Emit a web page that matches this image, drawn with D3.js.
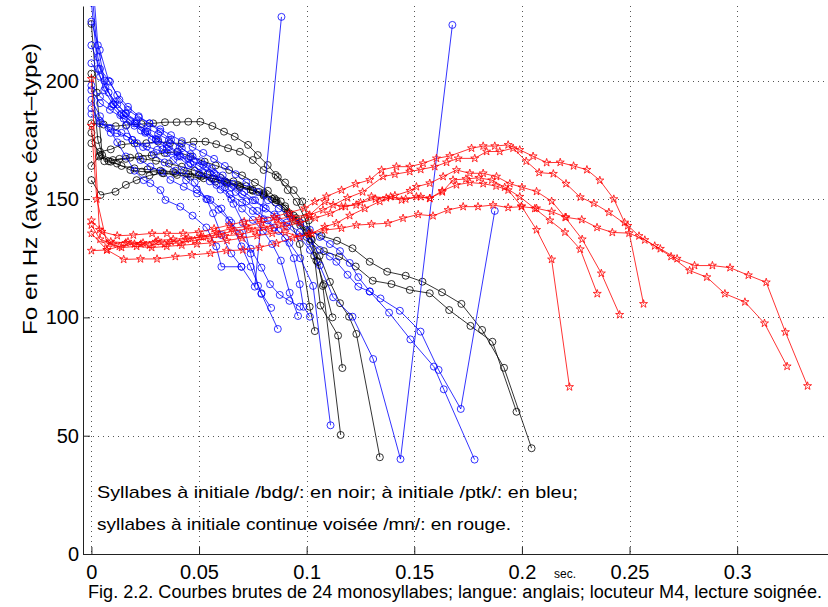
<!DOCTYPE html>
<html>
<head>
<meta charset="utf-8">
<script src="https://cdn.jsdelivr.net/npm/d3@7"></script>
<style>
body { margin: 0; background: #fff; }
text { font-family: "Liberation Sans", Arial, Helvetica, sans-serif; }
</style>
</head>
<body>
<script>
// temps en ms, Fo en Hz
// syllabes /bdg/ (noir)
var noir = [
  [[0,182],[5.7,181.5],[11.3,180.8],[16.3,181.3],[23.3,181.7],[28.7,182],[34.2,182.5],[39.6,182.5],[45,182.7],[50.6,182.7],[56.2,180.9],[61.6,178.5],[66.6,176.4],[72.8,172.9],[77.3,168.6],[81.9,164.4],[86.6,159.3],[91.2,153.8],[95.4,148.8],[99.1,142],[102.4,132.7],[105.2,123.4],[107.5,113.3],[115.8,50.3]],
  [[0,173.6],[4,170],[9,171],[14,173],[20,173.6],[25.5,173.6],[31,174.3],[36.5,173.6],[42,173.6],[47.5,174.3],[53,174.3],[58,173.2],[63.5,171.5],[69,170],[75,166.5],[80,162.3],[85.6,160.2],[90,157],[94,153.8],[98,149],[101,141],[103.5,126],[106.4,105],[114.6,92.3],[116.6,78.6]],
  [[0,224],[2.5,195],[5,168.6],[10,166.5],[16,167],[22,168],[28,168.5],[34,169.5],[40,170],[46,168],[52.6,165.8],[57.7,164.2],[64,162.3],[70,160],[76,157],[82,153.5],[88,149],[94,143],[100,136],[106,126],[110.8,115],[115.5,106],[119.7,100.3],[123.1,93],[134,40.9]],
  [[0,203],[3,175],[6,166],[11.9,165],[18.1,162.3],[23.5,161.6],[29,161.6],[33.6,160.9],[39.8,160.2],[46,159.5],[52.2,158.8],[57.6,157.4],[63,156.5],[69,155],[75,153.5],[80,151.5],[85.6,148.5],[91,144],[96.8,131],[101.4,104.5],[103.8,94.2]],
  [[0,158],[4.2,151.7],[11.2,153.1],[16,156],[21,158],[27,160],[33,161],[39,161],[45,160.5],[51,159.5],[57,158.5],[63,157],[69,155.5],[75,153.8],[80,152],[85,150.3],[90,147],[95,142],[99.9,136.9],[106.9,134.5],[114.1,132.4],[121.3,129.2],[129.3,123.5],[137.4,119.3],[146,117.6],[153.8,115.1],[162.9,110.6],[171.9,105.7],[181.5,94.7],[191.7,78.7],[204.5,44.7]],
  [[0,164],[4,168.5],[9,165.8],[14,164],[20,163],[26,162.5],[32,162],[38,161.5],[44,160.8],[50,160],[56,158.8],[62,157.5],[68,156],[74,154],[80,152.5],[86,149.5],[92,144],[97,139],[102,133],[108,128],[115.1,125.7],[122.8,121.5],[130.7,115.5],[139.4,114.1],[147.9,111.6],[157.2,110.2],[166.2,103.1],[176.1,96.4],[186.3,89.7],[197.5,60.1]],
  [[0,178],[3.5,168],[8,166],[13,167],[18,167.5],[24,167],[30,166.2],[36,165],[42,163.7],[48,162],[54,160.5],[60,159],[66,157.5],[72,155.5],[78,153],[84,150],[90,146],[95,141],[100,134],[104.5,124],[108,114],[112,100]]
];

// syllabes /ptk/ (bleu)
var bleu = [
  [[0,250],[3,215],[6,200],[10.4,190],[14,186],[18,183],[23,179],[28,175],[33,171],[38,166.5],[43,162],[48,157],[53.4,150],[56.5,144],[60.4,134.8],[65,127],[69.7,121.4],[75.9,113],[88.3,227]],
  [[0,188.4],[4,183],[9,178],[11.9,177.8],[16.5,176.4],[21.2,173.6],[25.8,172.2],[30.5,170.8],[35.1,169.4],[41.3,168],[47.5,165.8],[53.7,163.7],[58,160],[62,155],[66,148],[70.4,140],[74,127],[77.4,113.3],[79,109.9],[86.6,95.1]],
  [[0,233],[3,205],[6,196],[10,190],[15,185.5],[20,182],[25,178.5],[30,175],[35,171.5],[40,168],[45,164.4],[50,161],[55,157.5],[60,154],[65,150],[70,146],[75,141.2],[79.7,136.5],[84,131],[88,124],[92.1,110.4],[96,100.6]],
  [[0,240],[3,210],[6.5,197],[11,191],[16,186],[21,182],[26,178.5],[31,175],[36,172],[41,168.5],[46,165],[51.9,161],[58.1,156],[64.3,152],[70,148.5],[75,145],[80,141.5],[85,138],[90,133.5],[94,125],[96.8,114],[98.5,104.5],[101.5,100.3]],
  [[0,225],[3.9,213],[8,200],[12,194],[17,189],[22,185],[27,182],[32,178.5],[37,175],[42,171.5],[47,168],[52,164.5],[57,161],[62,157],[67,153],[72,149],[77,145],[82,141],[87,136.5],[92,131.5],[97,125],[103,113.3],[111.1,54.4]],
  [[0,207.4],[4,201.7],[8,195],[12,190],[16,186.3],[21,183],[26,180],[31,177.5],[36,175],[41,172],[46,169],[51,166],[56,163],[61,160],[66,156.5],[71,153],[76,149.5],[81,146],[86,142.5],[91,138.5],[96.8,134],[101.5,128.5],[106.1,122],[112.3,108.5],[121.3,100.3],[130.9,82.4],[143.6,40.1],[167.7,223.6]],
  [[0,215],[4,205],[8.6,199.6],[13,192],[17,187.7],[22,184.5],[27,182],[32,179.5],[37,177],[42,174.5],[47,172],[52,169.5],[57,167],[62,164],[67,160.5],[72,157],[77,153],[82,149.5],[87,146],[92,143],[97,140],[101.5,137],[106.1,134],[110.8,131],[115.5,128],[120,123],[124,117],[129.3,111],[134.3,108],[143.3,102.8],[152.9,94],[161.3,77.8],[171.6,61.3],[187.4,145]],
  [[0,196],[4,190.5],[8.6,187.7],[15,184],[20,181],[25,178],[30,175.5],[35,173],[40,170],[45,167],[50,164],[55,161],[60,158],[65,155],[70,152],[75,149.5],[80,146.5],[85,143.5],[90.6,140],[96.8,136],[101.5,132],[106.1,128.5],[110.8,125.7],[113.8,123.5],[119,118],[124,113],[129.3,110.9],[138.3,102],[148.2,90.7],[159.1,79.2],[163.7,69.6],[178,39.9]],
  [[0,198],[4,193.3],[9.4,189.3],[13.4,185.5],[16,181],[19,175],[22.8,166.5],[27.4,163.7],[32.8,161.6],[36.7,158.1],[42.9,155.2],[49.1,152.4],[55.3,149.6],[60.4,146],[65,140],[69.7,130],[74,121.4],[79,110.2],[83.5,104]],
  [[0,192],[4,185],[8,180],[12,174],[16,168],[20,162],[24.3,158],[27.4,156.7],[32.1,153.8],[34.4,149.6],[41.3,146.8],[47,143],[53.4,138],[58,130],[60.4,121.4],[69.7,121.4]],
  [[0,186],[4,182],[9,180],[14,178],[19,175],[24,172],[29,169],[34,165.5],[39,162],[44,158],[49,154],[54,150],[59,145.5],[64,141],[69,135.5],[74,129],[79,121],[83,114],[87.5,109.5],[92,107],[96.8,104.5]]
];

// syllabes /mn/ (rouge)
var rouge = [
  [[0,128.2],[7.2,128.5],[15,124.5],[22.8,124.7],[30.5,124.7],[39,125.7],[46.7,126.4],[55.3,127.1],[62.7,128.2],[70.4,128.5],[78.2,129.6],[86,131.3],[93.5,133.6],[101,135.2],[108.4,136.9],[116.2,137.7],[123.1,139],[130.1,139.4],[137.8,139.8],[144.8,141.9],[151.8,143.5],[158.7,142.9],[165.7,145.4],[172.7,146.8],[179.6,146.8],[186.6,147.5],[193.6,146.4],[199.8,146.8],[206.8,146.1],[213.8,144.7],[220.5,142.3],[227.8,141.3],[234.9,138],[242,135.9],[249.8,135.6],[257.1,132.7],[264.3,129],[272.1,124.8],[280.2,121.9],[288.5,121.9],[296.7,121],[305.2,117.8],[313.5,114.8],[322.4,93.8],[332.7,71]],
  [[0,141],[4.9,136.2],[12,134.5],[19.5,134.8],[28.2,135.5],[35.1,135.5],[42.6,135.5],[49.9,136],[57,137.5],[64,139],[71,140.5],[78,141.5],[85,142.5],[92,144.3],[99.1,146.1],[103.8,148.9],[109.2,151.1],[116.2,153.8],[122.8,156.4],[129.3,158.1],[134.8,162.3],[141.7,163.7],[147.9,163.7],[154.1,165.1],[160.3,167.2],[166.5,168.2],[176.6,171.5],[182,172.4],[187.4,172.4],[193.6,172.9],[199,170.8],[205.2,168.1],[211.5,165.4],[217.8,165.5],[224,164],[230.2,162.4],[236.2,157.9],[242.7,150],[247.7,140.1],[254.4,134.4],[261.7,130.2],[269.3,125.7],[277.9,119.8],[285.9,117],[294.3,110],[303.6,106.5],[312.7,97.5],[323.2,79.3]],
  [[0,200.8],[3.7,137],[9,132],[16,131.5],[23,131],[30,132],[37,132],[44,133],[51,134],[58,136],[65,137.5],[72,138.5],[79,140],[86,141.5],[93,142.5],[101.4,143.3],[107.6,145.4],[112.3,147.5],[119,150.5],[126,153],[135.5,159.5],[141,160.5],[147.9,161.6],[153,162.5],[159.5,163.7],[165,165.5],[170.4,167.2],[178.1,167.2],[183.6,170.1],[189.7,170.1],[195.9,171.5],[202,166],[208,161.2],[214.6,160.7],[220.5,156.5],[227.1,150.8],[233.4,148.2],[240.4,144.4],[249.2,138.7],[256.5,105.7]],
  [[0,181],[2.5,150],[7.2,131.3],[14,129.5],[21,130],[28,129.5],[35,130],[42,130.5],[49,131],[56,131.5],[63,132.5],[70,133.5],[77,134.5],[84,135.5],[90,136],[96.8,134.1],[102.4,135.5],[108.4,138.3],[113.8,139.8],[120,143],[127,146],[134,149],[141,151.5],[148,153.5],[151,155.2],[157.2,156.7],[163.4,159.5],[169.6,162.3],[175.8,160.9],[182,160.9],[188.2,159.5],[194.4,156.5],[200,155],[206.8,153.2],[213.8,149.1],[220.1,142.3],[228,133],[236.9,118.6],[245.4,101.1]],
  [[0,135.5],[7.2,128.5],[13,130],[20,131],[27,130.5],[34,131],[41,131.5],[48,132.5],[55,133.5],[62,134.5],[69,135],[76,136.5],[83,137.5],[90,138.5],[97,140],[104,142],[111,144],[118,146.8],[125,148.5],[132,150],[139,151],[146,150],[153,151],[157.2,150.3],[163,153],[168,158.1],[174,158.5],[180,159],[186,158],[192,155],[199,151],[206,146],[213,141],[220,136],[227.1,128.8],[235,110]],
  [[0,139],[4,133],[10,131],[17,132],[24,131.5],[31,132.5],[38,133],[45,133.5],[52,134],[59,135],[66,136.5],[73,137.5],[80,138],[87,139.5],[94,141],[101,143],[108.4,148.9],[116.2,146.8],[123,147.5],[130.1,151.1],[137,150.5],[144.1,149.6],[151,151],[157.2,150.3],[163,153.5],[169.6,156],[175.8,157],[182,156.5],[188,155.5],[193.6,153.8],[199.8,147],[206.8,137],[213.8,124.5],[222.1,70.6]]
];

var xTicks = [0, 50, 100, 150, 200, 250, 300];
var xLabels = ["0", "0.05", "0.1", "0.15", "0.2", "0.25", "0.3"];
var yTicks = [0, 50, 100, 150, 200];

var width = 828,
    height = 607;

var x = d3.scaleLinear()
    .domain([-3.9, 342.2])
    .range([83, 828]);

var y = d3.scaleLinear()
    .domain([0, 231.6])
    .range([554, 6]);

var svg = d3.select("body").append("svg")
    .attr("width", width)
    .attr("height", height)
    .style("display", "block");

svg.append("rect").attr("width", width).attr("height", height).attr("fill", "#fff");

svg.append("clipPath").attr("id", "zone")
    .append("rect")
    .attr("x", 83).attr("y", 6)
    .attr("width", 828 - 83).attr("height", 554 - 6);

// grille pointillee
var grille = svg.append("g")
    .attr("stroke", "#555")
    .attr("stroke-width", 1)
    .attr("stroke-dasharray", "1,4");

grille.selectAll(".gx")
    .data(xTicks)
    .enter().append("line")
    .attr("x1", function (d) { return Math.round(x(d)) + 0.5; })
    .attr("x2", function (d) { return Math.round(x(d)) + 0.5; })
    .attr("y1", 6).attr("y2", 554);

grille.selectAll(".gy")
    .data(yTicks.filter(function (d) { return d > 0; }))
    .enter().append("line")
    .attr("y1", function (d) { return Math.round(y(d)) + 0.5; })
    .attr("y2", function (d) { return Math.round(y(d)) + 0.5; })
    .attr("x1", 83).attr("x2", 828);

var trace = d3.line()
    .x(function (d) { return x(d[0]); })
    .y(function (d) { return y(d[1]); });

var plot = svg.append("g").attr("clip-path", "url(#zone)");

function courbes(data, couleur, marque) {
    var g = plot.append("g");
    data.forEach(function (c) {
        g.append("path")
            .attr("d", trace(c))
            .attr("fill", "none")
            .attr("stroke", couleur)
            .attr("stroke-width", 0.8);
        if (marque == "o") {
            g.selectAll(null)
                .data(c)
                .enter().append("circle")
                .attr("cx", function (d) { return x(d[0]); })
                .attr("cy", function (d) { return y(d[1]); })
                .attr("r", 3.5)
                .attr("fill", "none")
                .attr("stroke", couleur)
                .attr("stroke-width", 0.8);
        } else {
            g.selectAll(null)
                .data(c)
                .enter().append("path")
                .attr("d", d3.symbol().type(d3.symbolStar).size(20))
                .attr("transform", function (d) { return "translate(" + x(d[0]) + "," + y(d[1]) + ")"; })
                .attr("fill", "none")
                .attr("stroke", couleur)
                .attr("stroke-width", 0.8);
        }
    });
}

courbes(noir, "#000", "o");
courbes(bleu, "#0000ff", "o");
courbes(rouge, "#ff0000", "*");

// axes
var xAxis = d3.axisBottom(x)
    .tickValues(xTicks)
    .tickSizeInner(-7)
    .tickSizeOuter(0)
    .tickPadding(11)
    .tickFormat(function (d, i) { return xLabels[i]; });

var yAxis = d3.axisLeft(y)
    .tickValues(yTicks)
    .tickSizeInner(-7)
    .tickSizeOuter(0)
    .tickPadding(6);

var gx = svg.append("g")
    .attr("transform", "translate(0,554)")
    .call(xAxis);

var gy = svg.append("g")
    .attr("transform", "translate(83,0)")
    .call(yAxis);

[gx, gy].forEach(function (g) {
    g.select(".domain").attr("stroke", "#222");
    g.selectAll(".tick line").attr("stroke", "#222");
    g.selectAll("text")
        .attr("fill", "#000")
        .style("font-family", "'Liberation Sans', Arial, sans-serif")
        .style("font-size", "20px");
});
gy.selectAll("text").attr("x", -4);

svg.append("text")
    .attr("x", 565).attr("y", 578)
    .attr("text-anchor", "middle")
    .style("font-size", "12px")
    .text("sec.");

svg.append("text")
    .attr("transform", "translate(37,189) rotate(-90)")
    .attr("text-anchor", "middle")
    .attr("textLength", 292)
    .attr("lengthAdjust", "spacingAndGlyphs")
    .style("font-size", "21px")
    .text("Fo en Hz (avec écart–type)");

svg.append("text")
    .attr("x", 97).attr("y", 498)
    .attr("textLength", 481)
    .attr("lengthAdjust", "spacingAndGlyphs")
    .style("font-size", "17px")
    .text("Syllabes à initiale /bdg/: en noir; à initiale /ptk/: en bleu;");

svg.append("text")
    .attr("x", 97).attr("y", 530)
    .attr("textLength", 414)
    .attr("lengthAdjust", "spacingAndGlyphs")
    .style("font-size", "17px")
    .text("syllabes à initiale continue voisée /mn/: en rouge.");

svg.append("text")
    .attr("x", 88).attr("y", 598)
    .attr("textLength", 734)
    .attr("lengthAdjust", "spacingAndGlyphs")
    .style("font-size", "18px")
    .text("Fig. 2.2. Courbes brutes de 24 monosyllabes; langue: anglais; locuteur M4, lecture soignée.");
</script>
</body>
</html>
